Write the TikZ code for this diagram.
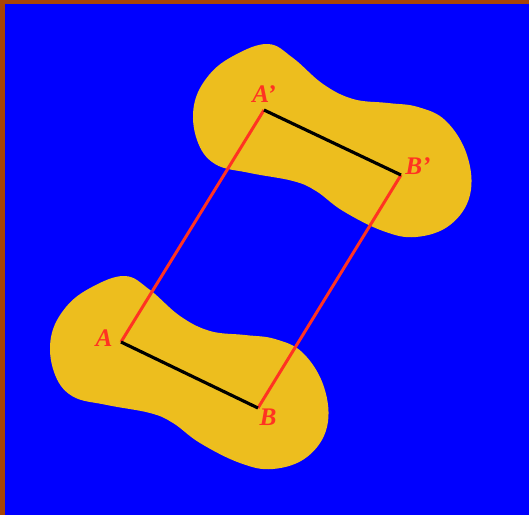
\documentclass[tikz,border=0pt]{standalone}
\usepackage{fontspec}
\setmainfont{Liberation Serif}
\usepackage{xcolor}
\usetikzlibrary{positioning}
\definecolor{frame}{HTML}{A84406}
\definecolor{sky}{HTML}{0000FF}
\definecolor{sand}{HTML}{EDBE1E}
\definecolor{redline}{HTML}{FF3322}
\tikzset{
  blob/.style    = {fill=sand, draw=none},
  side/.style    = {draw=redline, line width=1.7pt},
  base/.style    = {draw=black, line width=1.8pt},
  ptlbl/.style   = {font=\Large\bfseries\itshape, text=redline, inner sep=0pt},
}
\newcommand{\blob}[1]{%
  \fill[blob, shift={#1}] plot[smooth cycle, tension=0.65] coordinates {
    (125,276) (150,290) (180,316) (210,331) (245,335) (275,339) (303,353)
    (324,387) (327,427) (307,457) (273,469) (240,463) (200,443) (173,423)
    (150,413) (107,405) (72,396) (54,372) (51,337) (66,307) (92,287)};%
}

\begin{document}
\begin{tikzpicture}[x=0.02cm,y=-0.02cm]
  \useasboundingbox (0,0) rectangle (529,515);
  \fill[frame] (0,0) rectangle (529,515);
  \fill[sky] (5,4) rectangle (529,515);

  % the two shapes
  \blob{(0,0)}
  \blob{(143,-232)}

  % points
  \coordinate (A)  at (121,342);
  \coordinate (B)  at (258,408);
  \coordinate (Ap) at (264,110);
  \coordinate (Bp) at (401,175);

  \draw[side] (A) -- (Ap);
  \draw[side] (B) -- (Bp);
  \draw[base] (A) -- (B);
  \draw[base] (Ap) -- (Bp);

  % labels
  \node[ptlbl] (lA)  at (104,338) {A};
  \node[ptlbl] (lB)  at (268,417) {B};
  \node[ptlbl] (lAp) at (264,94)  {A’};
  \node[ptlbl] (lBp) at (418,166) {B’};
\end{tikzpicture}
\end{document}
